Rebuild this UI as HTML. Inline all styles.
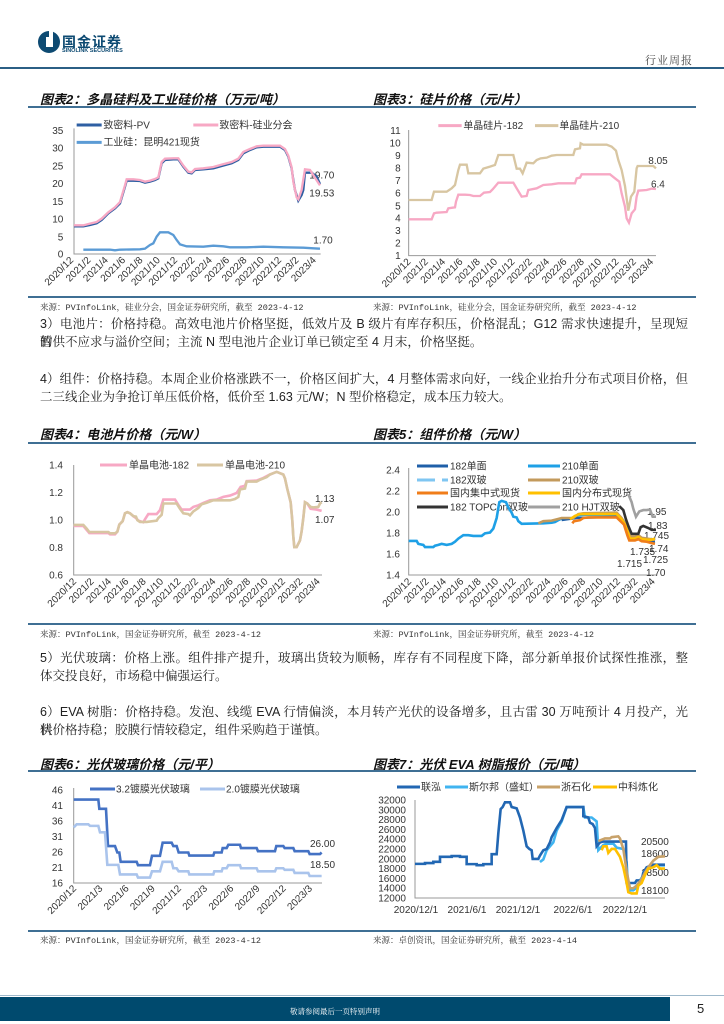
<!DOCTYPE html>
<html><head><meta charset="utf-8">
<style>
html,body{margin:0;padding:0;background:#fff;}
body{width:724px;height:1024px;position:relative;overflow:hidden;font-family:"Liberation Sans","Noto Serif CJK SC",serif;}
.a{position:absolute;white-space:nowrap;}
.p{position:absolute;left:40px;width:648px;font-family:"Liberation Sans","Noto Serif CJK SC",serif;font-size:12.5px;color:#222;height:18px;line-height:18px;}
.j{text-align:justify;text-align-last:justify;}
.t{position:absolute;font-family:"Liberation Sans","Noto Sans CJK SC",sans-serif;font-size:13px;font-weight:bold;font-style:italic;color:#111;}
.s{position:absolute;font-family:"Liberation Mono","Noto Serif CJK SC",serif;font-size:8.5px;color:#333;}
.r{position:absolute;height:2px;background:#3f6f94;}
</style></head><body>
<svg class="a" style="left:38px;top:30px" width="22" height="24" viewBox="0 0 22 24"><path d="M11 1 A11 11 0 1 0 11 23 A11 11 0 1 0 11 1Z" fill="#0d4a72"/><rect x="8" y="7" width="7" height="10" fill="#fff"/><rect x="11" y="0" width="4" height="7" fill="#fff"/></svg>
<div class="a" style="left:62px;top:32px;font-family:'Liberation Sans','Noto Sans CJK SC',sans-serif;font-weight:bold;font-size:14px;color:#0d4a72;letter-spacing:1px">国金证券</div>
<div class="a" style="left:62px;top:48px;font-family:'Liberation Sans',sans-serif;font-weight:bold;font-size:5.5px;color:#0d4a72">SINOLINK SECURITIES</div>
<div class="a" style="left:645px;top:52px;font-family:'Liberation Sans','Noto Serif CJK SC',serif;font-size:11px;color:#444;letter-spacing:1px">行业周报</div>
<div class="r" style="left:0;top:67px;width:724px;height:1.5px;background:#2b5f85"></div>

<div class="t" style="left:40px;top:89px">图表2：多晶硅料及工业硅价格（万元/吨）</div>
<div class="t" style="left:373px;top:89px">图表3：硅片价格（元/片）</div>
<div class="r" style="left:28px;top:106px;width:668px"></div>

<div class="r" style="left:28px;top:296px;width:668px;height:1.5px"></div>
<div class="s" style="left:40px;top:301px">来源：PVInfoLink，硅业分会，国金证券研究所，截至 2023-4-12</div>
<div class="s" style="left:373px;top:301px">来源：PVInfoLink，硅业分会，国金证券研究所，截至 2023-4-12</div>

<div class="p j" style="top:315px">3）电池片：价格持稳。高效电池片价格坚挺，低效片及 B 级片有库存积压，价格混乱；G12 需求快速提升，呈现短暂</div>
<div class="p" style="top:333px">的供不应求与溢价空间；主流 N 型电池片企业订单已锁定至 4 月末，价格坚挺。</div>
<div class="p j" style="top:370px">4）组件：价格持稳。本周企业价格涨跌不一，价格区间扩大，4 月整体需求向好，一线企业抬升分布式项目价格，但</div>
<div class="p" style="top:388px">二三线企业为争抢订单压低价格，低价至 1.63 元/W；N 型价格稳定，成本压力较大。</div>

<div class="t" style="left:40px;top:424px">图表4：电池片价格（元/W）</div>
<div class="t" style="left:373px;top:424px">图表5：组件价格（元/W）</div>
<div class="r" style="left:28px;top:442px;width:668px"></div>

<div class="r" style="left:28px;top:623px;width:668px;height:1.5px"></div>
<div class="s" style="left:40px;top:628px">来源：PVInfoLink，国金证券研究所，截至 2023-4-12</div>
<div class="s" style="left:373px;top:628px">来源：PVInfoLink，国金证券研究所，截至 2023-4-12</div>

<div class="p j" style="top:649px">5）光伏玻璃：价格上涨。组件排产提升，玻璃出货较为顺畅，库存有不同程度下降，部分新单报价试探性推涨，整</div>
<div class="p" style="top:667px">体交投良好，市场稳中偏强运行。</div>
<div class="p j" style="top:703px">6）EVA 树脂：价格持稳。发泡、线缆 EVA 行情偏淡，本月转产光伏的设备增多，且古雷 30 万吨预计 4 月投产，光伏</div>
<div class="p" style="top:721px">料价格持稳；胶膜行情较稳定，组件采购趋于谨慎。</div>

<div class="t" style="left:40px;top:754px">图表6：光伏玻璃价格（元/平）</div>
<div class="t" style="left:373px;top:754px">图表7：光伏 EVA 树脂报价（元/吨）</div>
<div class="r" style="left:28px;top:770px;width:668px"></div>

<div class="r" style="left:28px;top:930px;width:668px;height:1.5px"></div>
<div class="s" style="left:40px;top:934px">来源：PVInfoLink，国金证券研究所，截至 2023-4-12</div>
<div class="s" style="left:373px;top:934px">来源：卓创资讯，国金证券研究所，截至 2023-4-14</div>

<div class="a" style="left:0;top:997px;width:670px;height:24px;background:#004a6e"></div>
<div class="a" style="left:0;top:995px;width:724px;height:1px;background:#9fb9cb"></div>
<div class="a" style="left:0;top:1006px;width:670px;text-align:center;font-family:'Liberation Sans','Noto Serif CJK SC',serif;font-size:7.5px;color:#fff">敬请参阅最后一页特别声明</div>
<div class="a" style="left:697px;top:1001px;font-family:'Liberation Sans',sans-serif;font-size:13px;color:#222">5</div>

<svg class="a" style="left:0;top:0" width="724" height="1024" font-family="Liberation Sans, Noto Sans CJK SC, sans-serif">
<defs>
<g id="xl2" font-size="30" fill="#333" text-anchor="end">
<text transform="translate(140,452) rotate(-45)">2020/12</text>
<text transform="translate(192,452) rotate(-45)">2021/2</text>
<text transform="translate(244,452) rotate(-45)">2021/4</text>
<text transform="translate(296,452) rotate(-45)">2021/6</text>
<text transform="translate(348,452) rotate(-45)">2021/8</text>
<text transform="translate(400,452) rotate(-45)">2021/10</text>
<text transform="translate(452,452) rotate(-45)">2021/12</text>
<text transform="translate(504,452) rotate(-45)">2022/2</text>
<text transform="translate(556,452) rotate(-45)">2022/4</text>
<text transform="translate(608,452) rotate(-45)">2022/6</text>
<text transform="translate(660,452) rotate(-45)">2022/8</text>
<text transform="translate(712,452) rotate(-45)">2022/10</text>
<text transform="translate(764,452) rotate(-45)">2022/12</text>
<text transform="translate(816,452) rotate(-45)">2023/2</text>
<text transform="translate(868,452) rotate(-45)">2023/4</text>
</g>
<g id="xlp" font-size="10" fill="#333" text-anchor="end">
<text transform="translate(0,0) rotate(-45)">2020/12</text>
<text transform="translate(17.4,0) rotate(-45)">2021/2</text>
<text transform="translate(34.8,0) rotate(-45)">2021/4</text>
<text transform="translate(52.2,0) rotate(-45)">2021/6</text>
<text transform="translate(69.6,0) rotate(-45)">2021/8</text>
<text transform="translate(87,0) rotate(-45)">2021/10</text>
<text transform="translate(104.4,0) rotate(-45)">2021/12</text>
<text transform="translate(121.8,0) rotate(-45)">2022/2</text>
<text transform="translate(139.2,0) rotate(-45)">2022/4</text>
<text transform="translate(156.6,0) rotate(-45)">2022/6</text>
<text transform="translate(174,0) rotate(-45)">2022/8</text>
<text transform="translate(191.4,0) rotate(-45)">2022/10</text>
<text transform="translate(208.8,0) rotate(-45)">2022/12</text>
<text transform="translate(226.2,0) rotate(-45)">2023/2</text>
<text transform="translate(243.6,0) rotate(-45)">2023/4</text>
</g>
</defs>

<!-- Chart 2 -->
<g transform="translate(30,110) scale(0.3333)" fill="none">
<g font-size="30" fill="#333" text-anchor="end" stroke="none">
<text x="100" y="72">35</text><text x="100" y="125">30</text><text x="100" y="178">25</text><text x="100" y="231">20</text><text x="100" y="285">15</text><text x="100" y="338">10</text><text x="100" y="391">5</text><text x="100" y="442">0</text>
</g>
<path d="M132 55V432H872" stroke="#999" stroke-width="3"/>
<use href="#xl2" x="-8" y="0"/>
<line x1="140" y1="45" x2="215" y2="45" stroke="#2e5fa3" stroke-width="9"/>
<line x1="490" y1="45" x2="565" y2="45" stroke="#f7a8c4" stroke-width="9"/>
<line x1="140" y1="97" x2="215" y2="97" stroke="#5b9bd5" stroke-width="9"/>
<g font-size="30" fill="#333" stroke="none"><text x="220" y="55">致密料-PV</text><text x="568" y="55">致密料-硅业分会</text><text x="220" y="107">工业硅：昆明421现货</text>
<text x="838" y="206">19.70</text><text x="838" y="260">19.53</text><text x="850" y="400">1.70</text></g>
<polyline stroke="#2e5fa3" stroke-width="7" points="132,349 160,349 180,345 200,340 215,330 235,310 255,295 270,280 285,230 290,212 310,212 330,213 345,218 360,215 375,210 385,205 395,160 405,150 430,148 445,148 460,170 475,188 485,190 495,180 520,178 550,175 575,168 605,160 625,150 640,130 660,120 680,112 700,110 750,110 765,120 775,140 785,175 790,210 795,240 805,272 815,255 820,240 825,188 845,188 860,200 870,222"/>
<polyline stroke="#f7a8c4" stroke-width="7" points="132,346 160,346 180,341 200,336 215,326 235,307 255,292 270,276 285,226 290,208 310,208 330,210 345,215 360,212 375,207 385,202 395,156 405,146 430,145 445,145 460,167 475,185 485,187 495,177 520,175 550,171 575,164 605,156 625,146 640,126 660,117 680,109 700,107 750,107 765,117 775,137 785,172 790,215 800,262 805,268 815,240 825,178 840,180 870,226"/>
<polyline stroke="#5b9bd5" stroke-width="7" points="160,419 240,419 255,421 270,419 330,418 345,416 360,405 370,400 380,380 390,367 415,367 430,375 440,390 450,403 470,409 520,410 550,407 580,409 600,412 650,412 700,410 760,412 820,413 850,415 870,416"/>
</g>

<!-- Chart 3 -->
<g transform="translate(370,110) scale(0.3333)" fill="none">
<g font-size="30" fill="#333" text-anchor="end" stroke="none">
<text x="92" y="72">11</text><text x="92" y="110">10</text><text x="92" y="147">9</text><text x="92" y="185">8</text><text x="92" y="222">7</text><text x="92" y="260">6</text><text x="92" y="298">5</text><text x="92" y="335">4</text><text x="92" y="372">3</text><text x="92" y="410">2</text><text x="92" y="447">1</text>
</g>
<path d="M116 60V437H858" stroke="#999" stroke-width="3"/>
<use href="#xl2" x="-16" y="5"/>
<line x1="205" y1="47" x2="275" y2="47" stroke="#f7a8c4" stroke-width="9"/>
<line x1="495" y1="47" x2="565" y2="47" stroke="#d8c6a2" stroke-width="9"/>
<g font-size="30" fill="#333" stroke="none"><text x="280" y="57">单晶硅片-182</text><text x="568" y="57">单晶硅片-210</text>
<text x="835" y="162">8.05</text><text x="843" y="232">6.4</text></g>
<polyline stroke="#f7a8c4" stroke-width="7" points="116,328 185,328 192,310 200,308 230,306 235,295 255,292 258,275 265,254 285,254 300,255 310,258 330,258 342,248 360,246 368,238 385,218 430,218 440,235 455,260 470,258 475,240 500,235 520,225 545,223 565,220 615,220 620,205 630,203 635,193 720,193 735,205 748,215 755,250 765,290 770,325 777,338 785,310 795,298 800,260 805,242 830,240 845,236 858,237"/>
<polyline stroke="#d8c6a2" stroke-width="7" points="116,270 185,270 192,245 230,245 245,235 255,225 265,180 270,164 290,164 295,190 330,190 340,176 360,170 375,165 385,135 430,135 440,176 450,176 458,190 470,158 490,160 500,150 512,145 530,143 545,137 560,135 610,135 615,118 630,115 632,100 640,104 710,104 725,110 738,122 745,150 755,180 765,228 775,302 783,260 793,245 800,175 803,168 850,168 858,175"/>
</g>

<!-- Chart 4 (page coords text) -->
<g font-size="10" fill="#333" text-anchor="end">
<text x="63" y="468.5">1.4</text><text x="63" y="496">1.2</text><text x="63" y="523.5">1.0</text><text x="63" y="551">0.8</text><text x="63" y="578.5">0.6</text>
</g>
<path d="M73.7 465V575H322" stroke="#999" stroke-width="1" fill="none"/>
<use href="#xlp" x="77" y="582"/>
<line x1="100" y1="465" x2="127" y2="465" stroke="#f7a8c4" stroke-width="3"/>
<line x1="197" y1="465" x2="223" y2="465" stroke="#d8c6a2" stroke-width="3"/>
<g font-size="10" fill="#333"><text x="129" y="468.5">单晶电池-182</text><text x="225" y="468.5">单晶电池-210</text>
<text x="315" y="502">1.13</text><text x="315" y="523">1.07</text></g>
<g transform="translate(30,475.8) scale(0.3333,0.2638)" fill="none">
<polyline vector-effect="non-scaling-stroke" stroke="#f7a8c4" stroke-width="2.6" points="131,190 160,190 170,205 178,217 235,217 240,222 255,222 262,212 268,185 278,172 285,142 292,138 300,142 310,153 318,160 325,170 340,176 345,165 355,145 380,145 390,130 400,90 435,90 445,110 455,128 480,128 490,118 505,112 520,103 540,93 560,90 580,80 600,75 620,65 632,42 645,38 650,20 680,18 700,8 720,-5 740,-15 760,-5 765,10 772,50 782,100 787,170 790,230 793,270 800,270 810,245 815,210 820,160 825,100 832,105 842,125 860,128 875,133"/>
<polyline vector-effect="non-scaling-stroke" stroke="#d8c6a2" stroke-width="2.6" points="131,186 160,186 170,200 178,213 235,213 240,218 255,218 262,212 268,185 278,172 285,142 292,138 300,142 310,153 318,155 322,168 330,175 350,175 380,170 385,160 395,148 400,105 440,105 450,125 460,142 475,145 480,150 490,135 505,122 515,108 530,102 550,93 600,93 615,88 625,80 630,52 645,48 650,22 680,22 690,15 710,5 720,-5 740,-15 760,-5 765,10 772,50 782,100 787,170 790,230 793,270 800,270 810,245 815,210 820,160 825,100 832,105 842,118 850,120 865,118 870,105 875,100"/>
</g>

<!-- Chart 5 -->
<g font-size="10" fill="#333" text-anchor="end">
<text x="400" y="473.5">2.4</text><text x="400" y="494.5">2.2</text><text x="400" y="515.5">2.0</text><text x="400" y="536.5">1.8</text><text x="400" y="557.5">1.6</text><text x="400" y="578.5">1.4</text>
</g>
<path d="M408.7 468V575H656" stroke="#999" stroke-width="1" fill="none"/>
<use href="#xlp" x="412" y="582"/>
<g stroke-width="3">
<line x1="417" y1="466" x2="448" y2="466" stroke="#1f5fa8"/>
<line x1="528" y1="466" x2="560" y2="466" stroke="#1ea0e6"/>
<line x1="417" y1="480" x2="448" y2="480" stroke="#7fc6f2" stroke-dasharray="18 7"/>
<line x1="528" y1="480" x2="560" y2="480" stroke="#c39a5c"/>
<line x1="417" y1="493" x2="448" y2="493" stroke="#f07d1a"/>
<line x1="528" y1="493" x2="560" y2="493" stroke="#ffc000"/>
<line x1="417" y1="507" x2="448" y2="507" stroke="#333"/>
<line x1="528" y1="507" x2="560" y2="507" stroke="#a0a0a0"/>
</g>
<g font-size="10" fill="#333">
<text x="450" y="469.5">182单面</text><text x="562" y="469.5">210单面</text>
<text x="450" y="483.5">182双玻</text><text x="562" y="483.5">210双玻</text>
<text x="450" y="496.5">国内集中式现货</text><text x="562" y="496.5">国内分布式现货</text>
<text x="450" y="510.5">182 TOPCon双玻</text><text x="562" y="510.5">210 HJT双玻</text>
<text x="647" y="515">1.95</text><text x="648" y="529">1.83</text><text x="644" y="539">1.745</text><text x="649" y="552">1.74</text><text x="630" y="555">1.735</text><text x="643" y="563">1.725</text><text x="617" y="567">1.715</text><text x="646" y="576">1.70</text>
</g>
<g transform="translate(370,475.8) scale(0.3333,0.2638)" fill="none" stroke-width="2.6">
<polyline vector-effect="non-scaling-stroke" stroke="#1ea0e6" points="116,247 140,247 145,258 160,262 165,270 190,270 195,265 205,262 215,258 230,262 245,258 255,250 265,238 280,225 295,225 310,228 335,228 345,218 360,215 370,200 380,160 388,100 395,95 408,100 415,120 425,140 430,155 440,158 445,172 455,182 520,180 545,178 555,175 565,168 575,162 605,162 615,155 625,150 640,148 740,148 750,162 760,170 770,200 775,230 780,240 795,240 800,230 810,240 820,243 835,243 845,240 855,245"/>
<polyline vector-effect="non-scaling-stroke" stroke="#1f5fa8" stroke-width="2.3" points="575,168 620,160 745,155 760,172 775,235 780,243 800,243 810,237 820,245 840,248 855,250"/>
<polyline vector-effect="non-scaling-stroke" stroke="#c39a5c" points="505,180 520,172 545,170 560,165 575,160 610,160 625,145 640,142 740,140 755,160 765,180 775,215 780,230 795,230 805,225 815,235 830,238 855,243"/>
<polyline vector-effect="non-scaling-stroke" stroke="#ffc000" points="600,165 615,152 630,145 740,145 755,165 765,185 775,220 780,238 795,238 805,232 815,240 830,242 845,242 855,238"/>
<polyline vector-effect="non-scaling-stroke" stroke="#f07d1a" points="607,180 612,172 630,168 640,160 655,158 740,158 750,170 762,185 772,225 778,245 795,245 805,240 815,248 830,250 845,255 855,258"/>
<polyline vector-effect="non-scaling-stroke" stroke="#333" points="748,115 760,130 768,165 775,190 785,220 805,220 812,195 820,190 835,198 845,205 858,205"/>
<polyline vector-effect="non-scaling-stroke" stroke="#a0a0a0" points="775,70 785,100 790,125 798,155 808,135 820,130 830,130 840,128 848,155 858,155"/>
</g>

<!-- Chart 6 -->
<g font-size="10" fill="#333" text-anchor="end">
<text x="63" y="793.5">46</text><text x="63" y="809">41</text><text x="63" y="824.5">36</text><text x="63" y="840">31</text><text x="63" y="855.5">26</text><text x="63" y="871">21</text><text x="63" y="886.5">16</text>
</g>
<path d="M73.7 788V883H322" stroke="#999" stroke-width="1" fill="none"/>
<g font-size="10" fill="#333" text-anchor="end">
<text transform="translate(77,889) rotate(-45)">2020/12</text>
<text transform="translate(103.2,889) rotate(-45)">2021/3</text>
<text transform="translate(129.4,889) rotate(-45)">2021/6</text>
<text transform="translate(155.6,889) rotate(-45)">2021/9</text>
<text transform="translate(181.8,889) rotate(-45)">2021/12</text>
<text transform="translate(208,889) rotate(-45)">2022/3</text>
<text transform="translate(234.2,889) rotate(-45)">2022/6</text>
<text transform="translate(260.4,889) rotate(-45)">2022/9</text>
<text transform="translate(286.6,889) rotate(-45)">2022/12</text>
<text transform="translate(312.8,889) rotate(-45)">2023/3</text>
</g>
<line x1="90" y1="789" x2="115" y2="789" stroke="#4472c4" stroke-width="3"/>
<line x1="200" y1="789" x2="225" y2="789" stroke="#aac4ec" stroke-width="3"/>
<g font-size="10" fill="#333"><text x="116" y="792.5">3.2镀膜光伏玻璃</text><text x="226" y="792.5">2.0镀膜光伏玻璃</text>
<text x="310" y="847">26.00</text><text x="310" y="868">18.50</text></g>
<g transform="translate(30,756.4) scale(0.3333,0.2583)" fill="none" stroke-width="2.6">
<polyline vector-effect="non-scaling-stroke" stroke="#4472c4" points="131,167 205,167 208,203 228,203 234,347 255,347 262,372 268,372 272,408 320,408 324,421 360,421 366,385 390,385 398,334 425,334 430,347 440,347 446,372 475,372 478,384 550,384 553,372 575,372 578,355 590,355 595,342 630,342 633,355 680,355 684,367 735,367 739,347 760,347 764,355 790,355 794,367 835,367 839,378 870,378 875,372"/>
<polyline vector-effect="non-scaling-stroke" stroke="#aac4ec" points="131,275 140,263 175,263 180,269 205,269 210,294 225,294 232,420 265,420 270,457 320,457 324,469 360,469 366,445 390,445 398,408 425,408 430,433 440,433 446,445 475,445 478,457 550,457 553,445 575,445 578,433 590,433 595,421 630,421 633,433 680,433 684,445 735,445 739,433 760,433 764,439 790,439 794,451 835,451 839,463 875,463"/>
</g>

<!-- Chart 7 -->
<g font-size="10" fill="#333" text-anchor="end">
<text x="406" y="803.5">32000</text><text x="406" y="813.3">30000</text><text x="406" y="823.1">28000</text><text x="406" y="832.9">26000</text><text x="406" y="842.7">24000</text><text x="406" y="852.5">22000</text><text x="406" y="862.3">20000</text><text x="406" y="872.1">18000</text><text x="406" y="881.9">16000</text><text x="406" y="891.7">14000</text><text x="406" y="901.5">12000</text>
</g>
<path d="M415 800V898H665" stroke="#999" stroke-width="1" fill="none"/>
<g font-size="10" fill="#333" text-anchor="middle">
<text x="416" y="913">2020/12/1</text><text x="467" y="913">2021/6/1</text><text x="518" y="913">2021/12/1</text><text x="573" y="913">2022/6/1</text><text x="625" y="913">2022/12/1</text>
</g>
<g stroke-width="3">
<line x1="397" y1="787" x2="420" y2="787" stroke="#2267b3"/>
<line x1="445" y1="787" x2="468" y2="787" stroke="#40b4f0"/>
<line x1="537" y1="787" x2="560" y2="787" stroke="#c8a26a"/>
<line x1="593" y1="787" x2="617" y2="787" stroke="#ffc000"/>
</g>
<g font-size="10" fill="#333">
<text x="421" y="790.5">联泓</text><text x="469" y="790.5">斯尔邦（盛虹）</text><text x="561" y="790.5">浙石化</text><text x="618" y="790.5">中科炼化</text>
<text x="641" y="845">20500</text><text x="641" y="857">18600</text><text x="641" y="876">18500</text><text x="641" y="894">18100</text>
</g>
<g transform="translate(370,752) scale(0.3333,0.262)" fill="none" stroke-width="2.6">
<polyline vector-effect="non-scaling-stroke" stroke="#40b4f0" points="510,420 520,410 530,375 540,360 550,345 560,300 575,265 590,210 640,210 645,250 665,250 680,265 685,375 700,355 710,350 730,350 740,365 760,370 770,420 775,528 790,528 800,518 810,490 820,470 830,450 845,440 860,432 885,433"/>
<polyline vector-effect="non-scaling-stroke" stroke="#2267b3" points="135,427 165,427 165,424 190,424 190,419 210,419 210,400 245,400 245,397 270,397 270,400 290,400 290,428 320,428 320,432 340,432 340,428 365,428 365,390 380,390 385,310 392,218 398,210 405,192 420,192 425,210 440,215 450,250 460,300 465,330 470,360 478,370 485,375 488,408 505,408 510,395 520,375 530,370 540,345 545,325 560,290 575,260 590,210 640,210 640,245 655,250 660,270 668,275 675,290 680,360 690,345 698,342 768,342 770,500 795,500 800,490 815,490 820,460 830,440 840,435 850,430 885,430"/>
<polyline vector-effect="non-scaling-stroke" stroke="#c8a26a" points="685,340 705,330 720,330 725,325 745,322 750,330 760,370 770,455 780,520 790,520 800,510 815,485 825,460 835,440 850,415 865,400 885,398"/>
<polyline vector-effect="non-scaling-stroke" stroke="#ffc000" points="695,375 700,360 710,360 715,385 725,370 735,370 740,380 750,400 760,440 770,500 775,535 785,540 800,540 805,510 815,500 825,470 835,445 850,440 860,432 870,445 885,445"/>
</g>
</svg>
</body></html>
